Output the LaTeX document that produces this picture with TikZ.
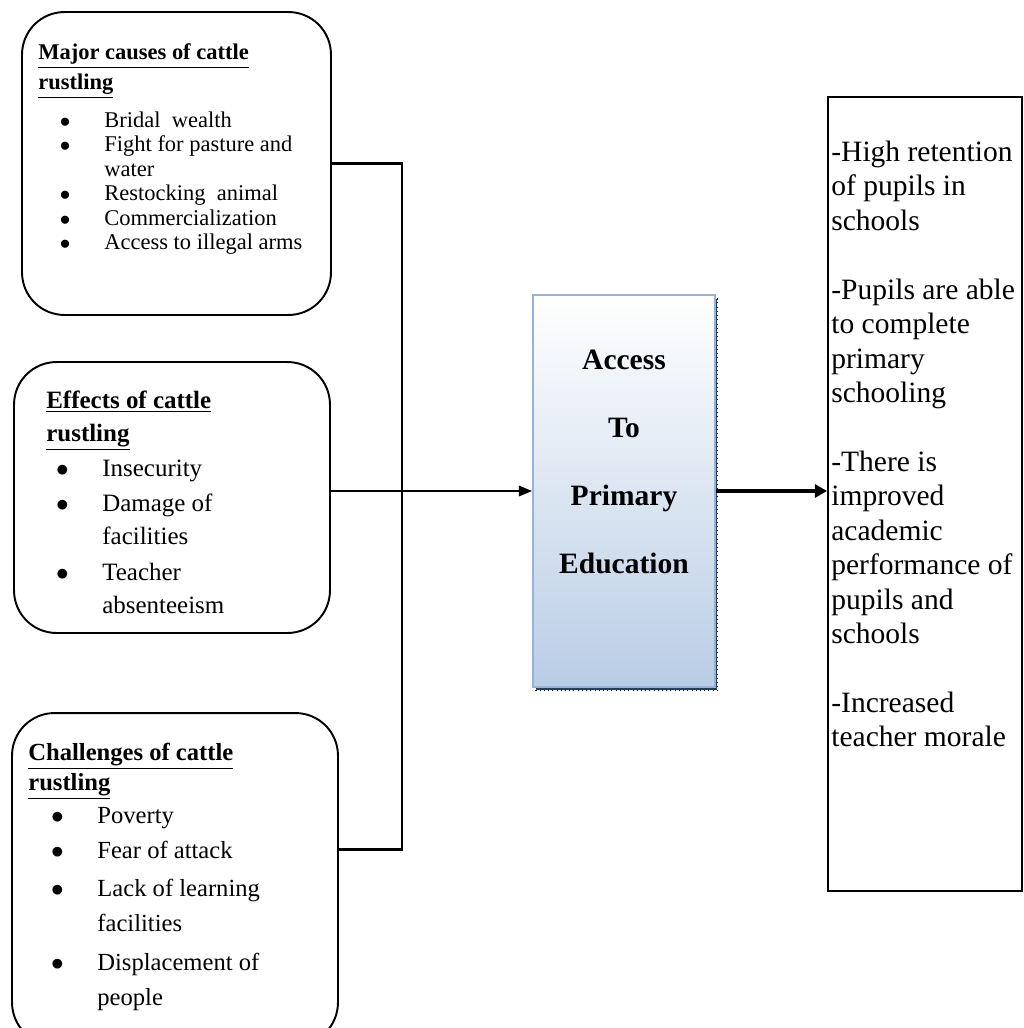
\documentclass[tikz,border=0pt]{standalone}
\usepackage{fontspec}
\setmainfont{Liberation Serif}
\usetikzlibrary{arrows.meta,positioning}
\definecolor{apeborder}{RGB}{149,179,215}
\definecolor{apebottom}{RGB}{185,205,229}
\definecolor{apeshadow}{RGB}{36,64,97}
\newcommand{\bulit}[2]{\makebox[#1][l]{\hspace{#2}$\bullet$}}

\begin{document}
\begin{tikzpicture}[x=0.02cm,y=-0.02cm,
    rbox/.style={draw,line width=1.1pt,rounded corners=0.85cm},
    txt/.style={anchor=north west,inner sep=0pt,align=left},
    bus/.style={line width=1.7pt},
    >={Triangle[length=7.5pt,width=6pt]}]
\useasboundingbox (0,0) rectangle (1024,1028);
\clip (0,0) rectangle (1024,1028);

\node[rbox,minimum width=6.18cm,minimum height=6.06cm] (causes) at (176.5,163.5) {};
\node[rbox,minimum width=6.32cm,minimum height=5.42cm] (effects) at (172,497.5) {};
\node[rbox,minimum width=6.52cm,minimum height=6.64cm] (challenges) at (175,879) {};

\node[txt,font=\fontsize{12.8}{13.9}\selectfont] (causestxt) at (38,43.5) {%
    \textbf{\underline{Major causes of cattle}}\\[3.1pt]
    \textbf{\underline{rustling}}\\[7.7pt]
    \bulit{37.6pt}{12.2pt}Bridal\ \ wealth\\
    \bulit{37.6pt}{12.2pt}Fight for pasture and\\
    \hspace*{37.6pt}water\\
    \bulit{37.6pt}{12.2pt}Restocking\ \ animal\\
    \bulit{37.6pt}{12.2pt}Commercialization\\
    \bulit{37.6pt}{12.2pt}Access to illegal arms};
\node[txt,font=\fontsize{14.2}{18.8}\selectfont] (effectstxt) at (46,390.7) {%
    \textbf{\underline{Effects of cattle}}\\
    \textbf{\underline{rustling}}\\[1.1pt]
    \bulit{31.9pt}{5.5pt}Insecurity\\[1.1pt]
    \bulit{31.9pt}{5.5pt}Damage of\\
    \hspace*{31.9pt}facilities\\[1.7pt]
    \bulit{31.9pt}{5.5pt}Teacher\\
    \hspace*{31.9pt}absenteeism};
\node[txt,font=\fontsize{14}{19.9}\selectfont] (challengestxt) at (28,743) {%
    \textbf{\underline{Challenges of cattle}}\\[-2.8pt]
    \textbf{\underline{rustling}}\\[-1.1pt]
    \bulit{39.3pt}{13pt}Poverty\\
    \bulit{39.3pt}{13pt}Fear of attack\\[1.7pt]
    \bulit{39.3pt}{13pt}Lack of learning\\
    \hspace*{39.3pt}facilities\\[2.3pt]
    \bulit{39.3pt}{13pt}Displacement of\\
    \hspace*{39.3pt}people};

\node[fill=apeshadow,draw=black,dotted,minimum width=3.64cm,minimum height=7.84cm] (apeshade) at (626.5,494.5) {};
\node[draw=apeborder,line width=1.2pt,top color=white,bottom color=apebottom,
    minimum width=3.64cm,minimum height=7.84cm] (ape) at (624,491) {};
\node[font=\fontsize{16.8}{38.7}\selectfont\bfseries,align=center] (apetxt) at (624,462) {Access\\To\\Primary\\Education};

\node[draw,line width=1.1pt,minimum width=3.88cm,minimum height=15.88cm] (outcomes) at (925,494) {};
\node[txt,font=\fontsize{16.8}{19.6}\selectfont] (outcomestxt) at (831,140.6) {%
    -High retention\\of pupils in\\schools\\[19.6pt]
    -Pupils are able\\to complete\\primary\\schooling\\[19.6pt]
    -There is\\improved\\academic\\performance of\\pupils and\\schools\\[19.6pt]
    -Increased\\teacher morale};

\coordinate (j1) at (402,163.5);
\coordinate (j3) at (402,849);
\draw[bus] (causes.east) -- (j1) -- (j3) -- (challenges.east |- j3);
\draw[->,line width=1.1pt] (effects.east |- ape.west) -- (ape.west);
\draw[->,line width=2pt,>={Triangle[length=7pt,width=7.5pt]}] (ape.east) -- (outcomes.west |- ape.east);
\end{tikzpicture}
\end{document}
